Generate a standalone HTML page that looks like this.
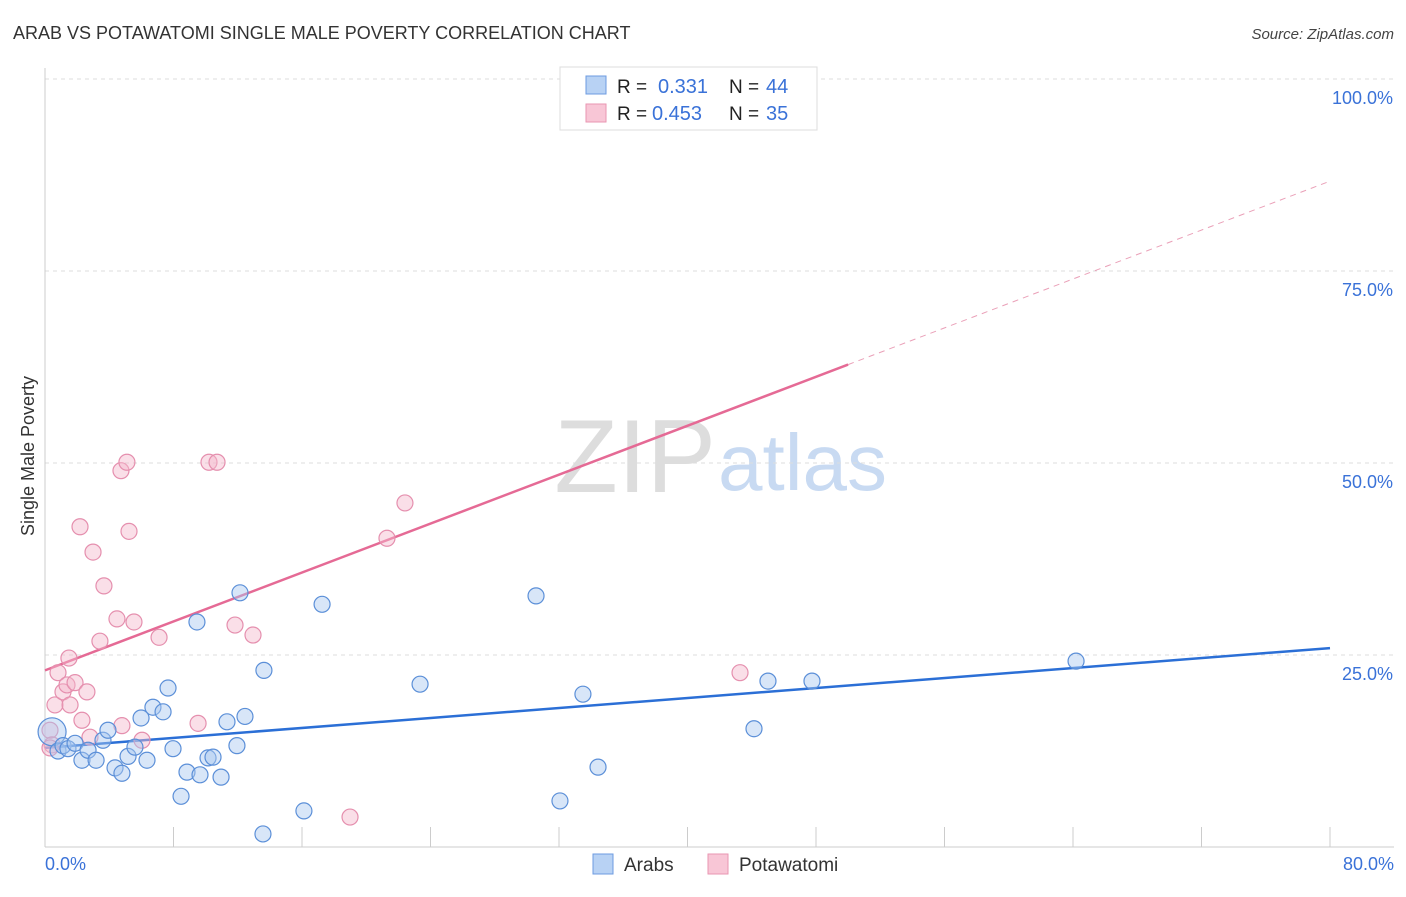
<!DOCTYPE html>
<html><head><meta charset="utf-8"><style>
body{margin:0;background:#fff;font-family:"Liberation Sans",sans-serif;}
svg text{font-family:"Liberation Sans",sans-serif;}
</style></head><body>
<svg id="chart" width="1406" height="892" xmlns="http://www.w3.org/2000/svg">
<text x="13" y="39" font-size="18" fill="#333">ARAB VS POTAWATOMI SINGLE MALE POVERTY CORRELATION CHART</text>
<text x="1394" y="39" font-size="15" fill="#444" text-anchor="end" font-style="italic">Source: ZipAtlas.com</text>
<text x="716" y="492" font-size="104" text-anchor="end" fill="#ddd" font-family="Liberation Serif,serif">ZIP</text>
<text x="718" y="490" font-size="80" fill="#c8daf2">atlas</text>
<text transform="translate(34,456) rotate(-90)" font-size="18" fill="#333" text-anchor="middle">Single Male Poverty</text>
<g id="grid"></g><g id="ticks"></g><g id="lines"></g><g id="pts"></g>
<g>
<rect x="560" y="67" width="257" height="63" fill="#fff" stroke="#ddd"/>
<rect x="586" y="76" width="20" height="18" fill="#b8d2f4" stroke="#6d9be0"/>
<text x="617" y="93" font-size="19" fill="#222">R =</text>
<text x="658" y="93" font-size="20" fill="#3a72d8">0.331</text>
<text x="729" y="93" font-size="19" fill="#222">N =</text>
<text x="766" y="93" font-size="20" fill="#3a72d8">44</text>
<rect x="586" y="104" width="20" height="18" fill="#f8c6d6" stroke="#e996b2"/>
<text x="617" y="120" font-size="19" fill="#222">R =</text>
<text x="652" y="120" font-size="20" fill="#3a72d8">0.453</text>
<text x="729" y="120" font-size="19" fill="#222">N =</text>
<text x="766" y="120" font-size="20" fill="#3a72d8">35</text>
</g>
<g>
<rect x="593" y="854" width="20" height="20" fill="#b8d2f4" stroke="#6d9be0"/>
<text x="624" y="871" font-size="19" fill="#333">Arabs</text>
<rect x="708" y="854" width="20" height="20" fill="#f8c6d6" stroke="#e996b2"/>
<text x="739" y="871" font-size="19" fill="#333">Potawatomi</text>
</g>
</svg>
<script>
const xTicks=[0,10,20,30,40,50,60,70,80];
const yTicks=[25,50,75,100];
const arabX=[0.44,0.81,1.12,1.43,1.87,2.30,2.68,3.18,3.61,3.92,4.36,4.79,5.17,5.60,5.98,6.35,6.72,7.35,7.66,7.97,8.47,8.84,9.46,9.65,10.15,10.46,10.96,11.33,11.95,12.14,12.45,13.63,13.57,16.12,17.25,23.35,30.57,32.06,33.49,34.43,44.14,45.01,47.75,64.19];
const arabY=[15.0,12.5,13.2,12.8,13.5,11.3,12.6,11.3,13.9,15.2,10.3,9.6,11.8,13.0,16.8,11.3,18.2,17.6,20.7,12.8,6.6,9.75,29.3,9.4,11.6,11.7,9.1,16.3,13.2,33.1,17.0,23.0,1.7,4.7,31.6,21.2,32.7,6.0,19.9,10.4,15.4,21.6,21.6,24.2];
const potX=[0.31,0.44,0.62,0.81,1.12,1.37,1.56,1.49,1.87,2.30,2.61,2.80,2.18,2.99,3.42,3.67,4.48,4.79,4.73,5.10,5.23,5.54,6.04,7.10,9.53,10.21,10.71,11.83,12.95,21.29,22.41,18.99,37.04,43.27,0.31];
const potY=[15.2,13.3,18.5,22.7,20.2,21.1,18.5,24.6,21.4,16.5,20.2,14.3,41.7,38.4,26.8,34.0,29.7,15.8,49.0,50.1,41.1,29.3,13.9,27.3,16.1,50.1,50.1,28.9,27.6,40.2,44.8,3.9,100,22.7,12.9];
const arabTrend=[12.9,25.9];
const potTrend=[23.0,86.7];
const potSolidEnd=50;
const NS="http://www.w3.org/2000/svg";
const X=v=>45+v*1285/80, Y=v=>847-v*7.68;
function mk(t,a,p){const e=document.createElementNS(NS,t);for(const k in a)e.setAttribute(k,a[k]);document.getElementById(p).appendChild(e);return e;}
let e;
yTicks.forEach(t=>{
 e=mk('line',{x1:45,x2:1394,y1:Y(t),y2:Y(t),stroke:'#ddd','stroke-dasharray':'4,4'},'grid');
 
 
 e=mk('text',{x:1393,y:Y(t)+25,'font-size':18,fill:'#3a72d8','text-anchor':'end'},'grid');e.textContent=t.toFixed(1)+'%';
 
 
});
e=mk('line',{x1:45,x2:45,y1:68,y2:847,stroke:'#ccc'},'ticks');


e=mk('line',{x1:45,x2:1394,y1:847,y2:847,stroke:'#ccc'},'ticks');


for(let v=0;v<=80;v+=8){
 e=mk('line',{x1:X(v),x2:X(v),y1:827,y2:847,stroke:'#ccc'},'ticks');
 
 
}
[[0,'start',45],[80,'end',1394]].forEach(([v,a,x])=>{
 e=mk('text',{x:x,y:870,'font-size':18,fill:'#3a72d8','text-anchor':a},'ticks');e.textContent=v.toFixed(1)+'%';
 
 
});
function pts(xs,ys,fill,stroke,name){xs.forEach((x,i)=>{
 e=mk('circle',{cx:X(x),cy:Y(ys[i]),r:(name=='arab-point'&&i==0)?14:8,fill:fill,'fill-opacity':0.45,stroke:stroke,'stroke-width':1.2},'pts');
 
 
});}
pts(potX,potY,'#f5b8cc','#e58fae','potawatomi-point');
pts(arabX,arabY,'#a8c8f0','#5b8fd8','arab-point');
e=mk('line',{x1:X(0),y1:Y(arabTrend[0]),x2:X(80),y2:Y(arabTrend[1]),stroke:'#2b6fd6','stroke-width':2.5},'lines');


const py=v=>potTrend[0]+(potTrend[1]-potTrend[0])*v/80;
e=mk('line',{x1:X(0),y1:Y(py(0)),x2:X(potSolidEnd),y2:Y(py(potSolidEnd)),stroke:'#e56a95','stroke-width':2.5},'lines');


e=mk('line',{x1:X(potSolidEnd),y1:Y(py(potSolidEnd)),x2:X(80),y2:Y(py(80)),stroke:'#eaa0b8','stroke-width':1,'stroke-dasharray':'6,5'},'lines');


</script>
</body></html>
